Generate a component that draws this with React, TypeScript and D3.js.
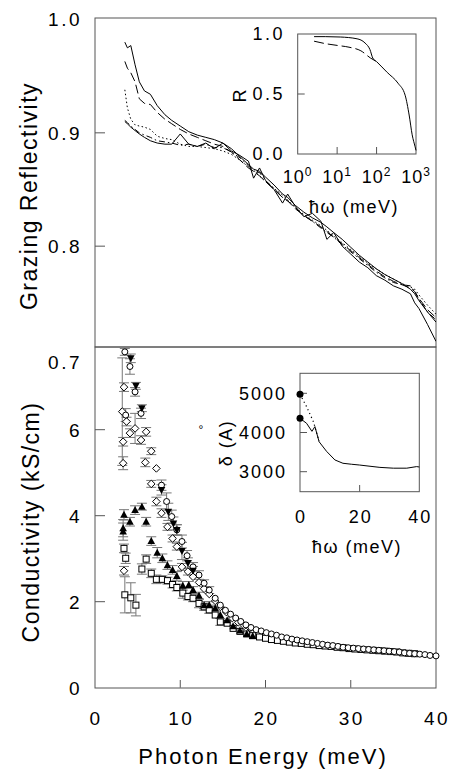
import React from "react";
import * as d3 from "d3";

// ---- top panel: grazing reflectivity, five samples on one energy grid (meV)
const topEnergy = [3.5, 3.8, 4.2, 4.7, 5.2, 5.8, 6.5, 7.3, 8.2, 9, 10, 11, 12, 13, 14, 15, 16, 17, 18, 18.6, 19.3, 20, 21, 22, 22.6, 23.5, 24.5, 25.5, 26.5, 27.2, 28, 29, 30, 31, 32, 33, 34, 35, 36, 37, 37.5, 38, 39, 40];
const reflA = [0.980, 0.975, 0.977, 0.960, 0.945, 0.937, 0.934, 0.924, 0.916, 0.911, 0.906, 0.901, 0.898, 0.896, 0.894, 0.891, 0.886, 0.879, 0.872, 0.868, 0.866, 0.861, 0.854, 0.846, 0.843, 0.836, 0.830, 0.825, 0.821, 0.817, 0.812, 0.806, 0.799, 0.792, 0.786, 0.780, 0.775, 0.771, 0.767, 0.762, 0.758, 0.752, 0.742, 0.733];
const reflB = [0.963, 0.957, 0.953, 0.945, 0.930, 0.926, 0.925, 0.918, 0.912, 0.908, 0.903, 0.899, 0.896, 0.893, 0.890, 0.888, 0.883, 0.876, 0.869, 0.866, 0.862, 0.857, 0.850, 0.843, 0.840, 0.833, 0.827, 0.822, 0.817, 0.813, 0.808, 0.802, 0.796, 0.790, 0.784, 0.778, 0.773, 0.769, 0.766, 0.763, 0.760, 0.754, 0.744, 0.737];
const reflC = [0.938, 0.922, 0.912, 0.907, 0.906, 0.905, 0.903, 0.897, 0.895, 0.894, 0.890, 0.888, 0.888, 0.887, 0.886, 0.884, 0.881, 0.876, 0.870, 0.867, 0.862, 0.857, 0.851, 0.845, 0.841, 0.834, 0.828, 0.823, 0.818, 0.814, 0.809, 0.803, 0.797, 0.791, 0.785, 0.780, 0.775, 0.771, 0.767, 0.764, 0.762, 0.757, 0.748, 0.740];
const reflD = [0.911, 0.909, 0.906, 0.903, 0.900, 0.898, 0.896, 0.893, 0.892, 0.891, 0.889, 0.890, 0.888, 0.890, 0.887, 0.887, 0.883, 0.878, 0.871, 0.866, 0.865, 0.858, 0.851, 0.843, 0.840, 0.834, 0.827, 0.822, 0.816, 0.812, 0.808, 0.801, 0.795, 0.789, 0.783, 0.777, 0.772, 0.768, 0.766, 0.765, 0.760, 0.753, 0.742, 0.735];
const reflE = [0.910, 0.908, 0.905, 0.902, 0.899, 0.896, 0.893, 0.891, 0.890, 0.890, 0.899, 0.890, 0.888, 0.891, 0.886, 0.891, 0.884, 0.880, 0.875, 0.860, 0.869, 0.858, 0.850, 0.838, 0.846, 0.835, 0.826, 0.829, 0.822, 0.806, 0.812, 0.800, 0.793, 0.786, 0.781, 0.774, 0.770, 0.765, 0.762, 0.758, 0.750, 0.745, 0.731, 0.716];
const topTicks = [1.0, 0.9, 0.8, 0.7];

// ---- top inset: R over a wide range (log energy)
const insetSolidE = [2.6, 5, 12, 32, 51, 68, 80, 100, 186, 350, 530, 670, 800, 950, 1000];
const insetSolidR = [0.978, 0.978, 0.975, 0.96, 0.925, 0.87, 0.80, 0.77, 0.68, 0.59, 0.49, 0.325, 0.16, 0.06, 0.03];
const insetDashE = [2.6, 5, 10, 20, 40, 70, 100];
const insetDashR = [0.94, 0.92, 0.905, 0.89, 0.86, 0.80, 0.77];
const insetRTicks = [1.0, 0.5, 0.0];
const insetLogTicks = [0, 1, 2, 3];

// ---- bottom panel: conductivity (kS/cm) with error bars
const circE = [3.5, 3.6, 4.1, 4.7, 5.4, 7.8, 8.4, 9.0, 9.6, 10.2, 10.8, 11.5, 12.2, 12.8, 13.4, 14.1, 14.7, 15.3, 15.9, 16.5, 17.1, 17.7, 18.3, 18.9, 19.5, 20.1, 20.7, 21.3, 21.9, 22.5, 23.1, 23.7, 24.3, 24.9, 25.5, 26.1, 26.7, 27.3, 27.9, 28.5, 29.1, 29.7, 30.3, 30.9, 31.5, 32.1, 32.7, 33.3, 33.9, 34.5, 35.1, 35.7, 36.3, 36.9, 37.5, 38.1, 38.7, 39.3, 40.0];
const circS = [7.81, 6.34, 7.47, 6.88, 6.38, 4.71, 4.33, 3.98, 3.67, 3.40, 3.07, 2.81, 2.62, 2.43, 2.27, 2.08, 1.92, 1.80, 1.71, 1.62, 1.54, 1.46, 1.40, 1.35, 1.32, 1.28, 1.25, 1.22, 1.18, 1.16, 1.13, 1.11, 1.09, 1.07, 1.05, 1.03, 1.01, 0.99, 0.98, 0.96, 0.94, 0.93, 0.92, 0.91, 0.90, 0.89, 0.88, 0.87, 0.86, 0.85, 0.84, 0.83, 0.81, 0.80, 0.79, 0.78, 0.77, 0.75, 0.74];
const circErr = [0.08, 0.15, 0.18, 0.1, 0.12, 0.12, 0.2, 0.15, 0.12, 0.15, 0.12, 0.1, 0.1, 0.08, 0.08, 0.06, 0.05, 0.05, 0.05, 0.04, 0.04, 0.04, 0.03, 0.03, 0.03, 0.03, 0.03, 0.03, 0.02, 0.02, 0.02, 0.02, 0.02, 0.02, 0.02, 0.02, 0.02, 0.02, 0.02, 0.02, 0.02, 0.02, 0.02, 0.02, 0.02, 0.02, 0.02, 0.02, 0.02, 0.02, 0.02, 0.02, 0.02, 0.02, 0.02, 0.02, 0.02, 0.02, 0.02];

const diaE = [3.2, 3.4, 3.3, 3.3, 3.4, 3.7, 4.1, 4.7, 5.4, 5.9, 6.0, 6.6, 6.6, 7.2, 7.2, 7.8, 8.5, 9.1, 9.6, 10.2, 10.9, 11.5, 12.2, 12.8, 13.4, 14.1, 14.7, 15.4, 16.1, 16.8, 17.5, 18.2];
const diaS = [6.42, 6.99, 5.72, 5.22, 2.72, 6.19, 5.92, 6.03, 5.76, 5.24, 5.95, 5.50, 4.74, 5.10, 4.33, 4.06, 3.74, 3.47, 3.28, 2.81, 2.70, 2.58, 2.45, 2.30, 2.18, 2.02, 1.88, 1.76, 1.62, 1.52, 1.44, 1.38];
const diaErr = [1.25, 0.1, 0.1, 0.15, 0.1, 0.1, 0.1, 0.35, 0.1, 0.1, 0.1, 0.08, 0.08, 0.05, 0.1, 0.1, 0.08, 0.08, 0.08, 0.08, 0.08, 0.06, 0.06, 0.06, 0.05, 0.05, 0.05, 0.04, 0.04, 0.04, 0.03, 0.03];

const triDownE = [4.2, 4.8, 5.5, 7.8, 8.6, 9.2, 9.6, 10.2, 10.9, 11.5];
const triDownS = [7.66, 7.02, 6.50, 4.60, 4.09, 3.82, 3.67, 3.18, 2.90, 2.72];
const triDownErr = [0.1, 0.08, 0.08, 0.12, 0.2, 0.15, 0.12, 0.2, 0.12, 0.1];

const triUpE = [3.3, 3.3, 3.4, 4.1, 4.7, 5.5, 6.0, 6.6, 7.3, 7.9, 8.5, 9.1, 9.6, 10.3, 11.0, 11.5, 12.2, 12.8, 13.4, 14.1, 14.7, 15.5, 16.2, 17.0, 17.8, 18.5];
const triUpS = [3.71, 3.63, 4.02, 3.86, 4.13, 4.21, 3.86, 3.41, 3.14, 3.01, 2.85, 2.74, 2.60, 2.37, 2.39, 2.27, 2.14, 1.92, 1.92, 1.85, 1.69, 1.57, 1.43, 1.33, 1.25, 1.20];
const triUpErr = [0.2, 0.2, 0.12, 0.1, 0.1, 0.08, 0.1, 0.1, 0.12, 0.1, 0.1, 0.1, 0.1, 0.1, 0.08, 0.08, 0.08, 0.08, 0.08, 0.07, 0.06, 0.06, 0.05, 0.05, 0.05, 0.04];

const sqE = [3.4, 3.6, 3.5, 4.2, 4.8, 5.5, 6.0, 6.6, 7.2, 7.9, 8.5, 9.1, 9.6, 10.3, 10.9, 11.5, 12.2, 12.8, 13.4, 14.1, 14.7, 15.5, 16.2, 17.0, 17.8, 18.5, 19.3, 20.0, 20.7, 21.4, 22.1, 22.8, 23.5, 24.2, 24.9, 25.6, 26.3, 27.0, 27.7, 28.4, 29.1, 29.8, 30.5, 31.2, 31.9, 32.6, 33.3, 34.0, 34.7, 35.4, 36.1, 36.8, 37.5];
const sqS = [3.24, 3.01, 2.16, 2.09, 1.92, 2.76, 2.99, 2.66, 2.52, 2.52, 2.49, 2.40, 2.33, 2.20, 2.12, 2.08, 1.96, 1.88, 1.81, 1.69, 1.53, 1.50, 1.38, 1.31, 1.25, 1.21, 1.18, 1.15, 1.12, 1.10, 1.08, 1.06, 1.04, 1.03, 1.01, 1.00, 0.98, 0.97, 0.96, 0.94, 0.93, 0.91, 0.90, 0.89, 0.88, 0.87, 0.86, 0.85, 0.84, 0.83, 0.81, 0.80, 0.79];
const sqErr = [0.1, 0.12, 0.42, 0.35, 0.25, 0.12, 0.1, 0.1, 0.1, 0.08, 0.08, 0.08, 0.08, 0.12, 0.08, 0.08, 0.1, 0.08, 0.08, 0.06, 0.08, 0.06, 0.05, 0.05, 0.05, 0.04, 0.04, 0.03, 0.03, 0.03, 0.03, 0.03, 0.03, 0.02, 0.02, 0.02, 0.02, 0.02, 0.02, 0.02, 0.02, 0.02, 0.02, 0.02, 0.02, 0.02, 0.02, 0.02, 0.02, 0.02, 0.02, 0.02, 0.02];

const botTicks = [0, 2, 4, 6];
const energyTicks = [0, 10, 20, 30, 40];

// ---- bottom inset: penetration depth (Å)
const depthSolidE = [0, 2.2, 4.0, 5.0, 6.4, 8.9, 11.7, 14.4, 17.3, 20, 22.8, 26.8, 31.3, 35.8, 39.1, 40];
const depthSolid = [4362, 4235, 4030, 4150, 3765, 3520, 3300, 3215, 3190, 3170, 3145, 3110, 3090, 3090, 3130, 3120];
const depthDotE = [0, 2.2, 4.5, 6.4];
const depthDot = [4975, 4660, 4275, 3780];
const depthZeroE = [0, 0];
const depthZero = [4975, 4362];
const depthTicks = [5000, 4000, 3000];
const depthETicks = [0, 20, 40];

const FONT = "'Liberation Sans', Arial, Helvetica, sans-serif";
const FRAME = "#555";

export default function App() {
  const x = d3.scaleLinear().domain([0, 40]).range([95, 436]);
  const yTop = d3.scaleLinear().domain([0.7, 1.0]).range([359.5, 19.5]);
  const yBot = d3.scaleLinear().domain([0, 8]).range([687.7, 343.7]);

  const xi = d3.scaleLog().domain([1, 1000]).range([297.7, 416]);
  const yi = d3.scaleLinear().domain([0, 1]).range([154, 34]);

  const xb = d3.scaleLinear().domain([0, 40]).range([300, 419.3]);
  const yb = d3.scaleLinear().domain([3000, 5000]).range([471.7, 393.3]);

  const topLine = d3
    .line<number>()
    .x((_, i) => x(topEnergy[i]))
    .y((d) => yTop(d));

  const topSeries = [
    { v: reflA, dash: "none" },
    { v: reflB, dash: "9,4" },
    { v: reflC, dash: "1.5,2.5" },
    { v: reflD, dash: "6,3,1.5,3" },
    { v: reflE, dash: "none" },
  ];

  const pairLine = (xs: number[], ys: number[], sx: any, sy: any, smooth = false) => {
    const gen = d3
      .line<number>()
      .x((_, i) => sx(xs[i]))
      .y((d) => sy(d));
    if (smooth) gen.curve(d3.curveMonotoneX);
    return gen(ys) || "";
  };

  const tickText = { fontFamily: FONT, fontSize: 19, letterSpacing: 2.5 } as const;

  const marker = (kind: string, cx: number, cy: number, key: string) => {
    if (kind === "circle")
      return <circle key={key} cx={cx} cy={cy} r={3} fill="#fff" stroke="#000" strokeWidth={1} />;
    if (kind === "square")
      return <rect key={key} x={cx - 3} y={cy - 3} width={6} height={6} fill="#fff" stroke="#000" strokeWidth={1} />;
    if (kind === "diamond")
      return <path key={key} d={`M${cx},${cy - 3.8}L${cx + 3.8},${cy}L${cx},${cy + 3.8}L${cx - 3.8},${cy}Z`} fill="#fff" stroke="#000" strokeWidth={1} />;
    if (kind === "up")
      return <path key={key} d={`M${cx},${cy - 4}L${cx + 3.8},${cy + 3}L${cx - 3.8},${cy + 3}Z`} fill="#000" />;
    return <path key={key} d={`M${cx},${cy + 4}L${cx + 3.8},${cy - 3}L${cx - 3.8},${cy - 3}Z`} fill="#000" />;
  };

  const botSeries = [
    { kind: "square", e: sqE, s: sqS, err: sqErr },
    { kind: "up", e: triUpE, s: triUpS, err: triUpErr },
    { kind: "diamond", e: diaE, s: diaS, err: diaErr },
    { kind: "circle", e: circE, s: circS, err: circErr },
    { kind: "down", e: triDownE, s: triDownS, err: triDownErr },
  ];

  return (
    <svg
      width={449}
      height={770}
      style={{ position: "absolute", left: 0, top: 0, background: "#fff" }}
      fontFamily={FONT}
    >
      <defs>
        <clipPath id="topClip">
          <rect x={95} y={18} width={341} height={329} />
        </clipPath>
        <clipPath id="botClip">
          <rect x={95} y={347} width={345} height={341} />
        </clipPath>
      </defs>

      {/* frames */}
      <rect x={95} y={18} width={341} height={329} fill="none" stroke={FRAME} strokeWidth={1} />
      <rect x={95} y={347} width={341} height={341} fill="none" stroke={FRAME} strokeWidth={1} />

      {/* top panel ticks and labels */}
      {topTicks.map((t) => (
        <g key={"tt" + t}>
          {t > 0.75 && t < 0.95 && (
            <line x1={95} x2={105} y1={yTop(t)} y2={yTop(t)} stroke={FRAME} />
          )}
          <text x={82} y={yTop(t) + (t < 0.75 ? 3 : 0)} dy="0.36em" textAnchor="end" {...tickText}>
            {d3.format(".1f")(t)}
          </text>
        </g>
      ))}
      <text
        transform="translate(37,196) rotate(-90)"
        textAnchor="middle"
        fontSize={23}
        letterSpacing={1.5}
      >
        Grazing Reflectivity
      </text>

      {/* top panel curves */}
      <g clipPath="url(#topClip)">
        {topSeries.map((s, i) => (
          <path
            key={"ts" + i}
            d={topLine(s.v) || ""}
            fill="none"
            stroke="#000"
            strokeWidth={1}
            strokeDasharray={s.dash}
          />
        ))}
      </g>

      {/* top inset */}
      <rect x={297.7} y={34} width={118.3} height={120} fill="none" stroke={FRAME} />
      {[1, 2].map((p) => (
        <line key={"il" + p} x1={xi(10 ** p)} x2={xi(10 ** p)} y1={154} y2={147} stroke={FRAME} />
      ))}
      <line x1={297.7} x2={304.7} y1={yi(0.5)} y2={yi(0.5)} stroke={FRAME} />
      {insetRTicks.map((t) => (
        <text key={"ir" + t} x={285} y={yi(t)} dy="0.36em" textAnchor="end" {...tickText} fontSize={18}>
          {d3.format(".1f")(t)}
        </text>
      ))}
      {insetLogTicks.map((p) => (
        <text key={"ix" + p} x={xi(10 ** p)} y={183} textAnchor="middle" fontSize={18} letterSpacing={1}>
          10
          <tspan fontSize={12} dy={-7}>
            {p}
          </tspan>
        </text>
      ))}
      <text transform="translate(246,96) rotate(-90)" textAnchor="middle" fontSize={18}>
        R
      </text>
      <text x={354} y={213} textAnchor="middle" fontSize={18} letterSpacing={1.5}>
        ħω (meV)
      </text>
      <path d={pairLine(insetSolidE, insetSolidR, xi, yi, true)} fill="none" stroke="#000" strokeWidth={1} />
      <path
        d={pairLine(insetDashE, insetDashR, xi, yi, true)}
        fill="none"
        stroke="#000"
        strokeWidth={1}
        strokeDasharray="10,4"
      />

      {/* bottom panel ticks and labels */}
      {botTicks.map((t) => (
        <g key={"bt" + t}>
          {t > 0 && <line x1={95} x2={105} y1={yBot(t)} y2={yBot(t)} stroke={FRAME} />}
          <text x={82} y={yBot(t)} dy="0.36em" textAnchor="end" {...tickText}>
            {t}
          </text>
        </g>
      ))}
      {energyTicks.map((t) => (
        <g key={"et" + t}>
          {t > 0 && t < 40 && <line x1={x(t)} x2={x(t)} y1={687.7} y2={680} stroke={FRAME} />}
          <text x={x(t) + 1} y={725} textAnchor="middle" {...tickText}>
            {t}
          </text>
        </g>
      ))}
      <text
        transform="translate(39,522) rotate(-90)"
        textAnchor="middle"
        fontSize={23}
        letterSpacing={1.5}
      >
        Conductivity (kS/cm)
      </text>
      <text x={263} y={764} textAnchor="middle" fontSize={22} letterSpacing={2}>
        Photon Energy (meV)
      </text>

      {/* bottom panel data */}
      <g clipPath="url(#botClip)">
        {botSeries.map((s) =>
          s.e.map((e, i) =>
            s.err[i] > 0.06 ? (
              <g key={s.kind + "e" + i} stroke="#777" strokeWidth={1}>
                <line x1={x(e)} x2={x(e)} y1={yBot(s.s[i] - s.err[i])} y2={yBot(s.s[i] + s.err[i])} />
                <line x1={x(e) - 5} x2={x(e) + 5} y1={yBot(s.s[i] - s.err[i])} y2={yBot(s.s[i] - s.err[i])} />
                <line x1={x(e) - 5} x2={x(e) + 5} y1={yBot(s.s[i] + s.err[i])} y2={yBot(s.s[i] + s.err[i])} />
              </g>
            ) : null
          )
        )}
        {botSeries.map((s) => s.e.map((e, i) => marker(s.kind, x(e), yBot(s.s[i]), s.kind + i)))}
      </g>

      {/* bottom inset */}
      <rect x={300} y={373.3} width={119.3} height={118.4} fill="none" stroke={FRAME} />
      {depthTicks.map((t) => (
        <g key={"dt" + t}>
          <line x1={300} x2={307} y1={yb(t)} y2={yb(t)} stroke={FRAME} />
          <text x={287} y={yb(t)} dy="0.36em" textAnchor="end" {...tickText} fontSize={18} letterSpacing={2}>
            {t}
          </text>
        </g>
      ))}
      {depthETicks.map((t) => (
        <g key={"de" + t}>
          {t === 20 && <line x1={xb(t)} x2={xb(t)} y1={491.7} y2={485} stroke={FRAME} />}
          <text x={xb(t) + 1} y={523} textAnchor="middle" {...tickText} fontSize={18} letterSpacing={2}>
            {t}
          </text>
        </g>
      ))}
      <text transform="translate(232,443) rotate(-90)" textAnchor="middle" fontSize={18} letterSpacing={1.5}>
        δ (A)
      </text>
      <text x={201} y={434} textAnchor="middle" fontSize={12}>
        °
      </text>
      <text x={357} y={553} textAnchor="middle" fontSize={18} letterSpacing={1.5}>
        ħω (meV)
      </text>
      <path d={pairLine(depthSolidE, depthSolid, xb, yb)} fill="none" stroke="#000" strokeWidth={1} />
      <path
        d={pairLine(depthDotE, depthDot, xb, yb)}
        fill="none"
        stroke="#000"
        strokeWidth={1.2}
        strokeDasharray="1.2,3"
      />
      {depthZeroE.map((e, i) => (
        <circle key={"dz" + i} cx={xb(e)} cy={yb(depthZero[i])} r={3.5} fill="#000" />
      ))}
    </svg>
  );
}
